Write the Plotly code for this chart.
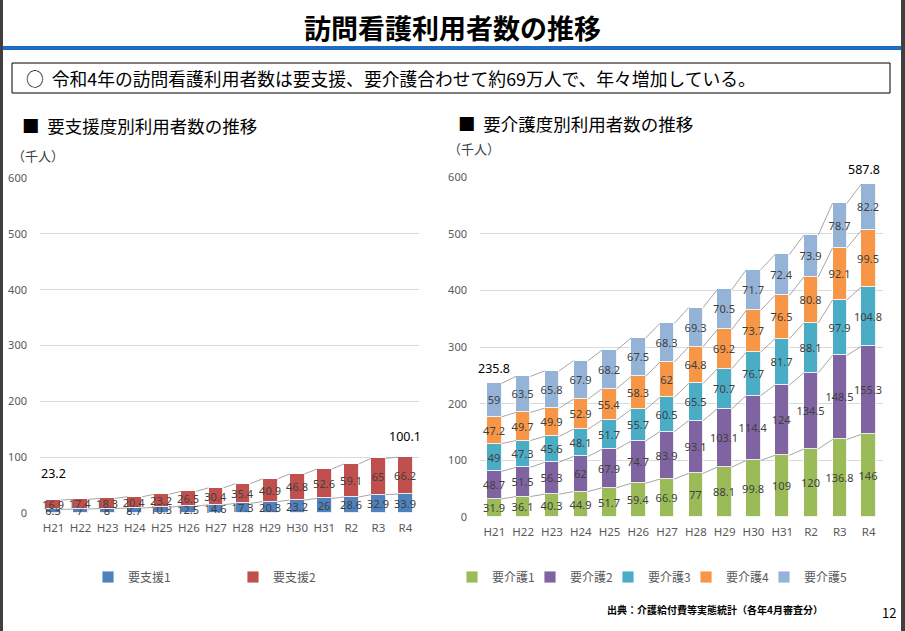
import plotly.graph_objects as go

W, H = 905, 631

years = ["H21", "H22", "H23", "H24", "H25", "H26", "H27", "H28", "H29", "H30", "H31", "R2", "R3", "R4"]

# 要支援
shien1 = [6.3, 7, 8, 8.7, 10.3, 12.5, 14.6, 17.3, 20.3, 23.2, 26, 28.6, 32.9, 33.9]
shien2 = [16.9, 17.4, 18.3, 20.4, 23.2, 26.5, 30.4, 35.4, 40.9, 46.8, 52.6, 59.1, 65, 66.2]
shien_totals = {"H21": "23.2", "R4": "100.1"}

# 要介護
kaigo1 = [31.9, 36.1, 40.3, 44.9, 51.7, 59.4, 66.9, 77, 88.1, 99.8, 109, 120, 136.8, 146]
kaigo2 = [48.7, 51.5, 56.3, 62, 67.9, 74.7, 83.9, 93.1, 103.1, 114.4, 124, 134.5, 148.5, 155.3]
kaigo3 = [49, 47.3, 45.6, 48.1, 51.7, 55.7, 60.5, 65.5, 70.7, 76.7, 81.7, 88.1, 97.9, 104.8]
kaigo4 = [47.2, 49.7, 49.9, 52.9, 55.4, 58.3, 62, 64.8, 69.2, 73.7, 76.5, 80.8, 92.1, 99.5]
kaigo5 = [59, 63.5, 65.8, 67.9, 68.2, 67.5, 68.3, 69.3, 70.5, 71.7, 72.4, 73.9, 78.7, 82.2]
kaigo_totals = {"H21": "235.8", "R4": "587.8"}

y_ticks = [0, 100, 200, 300, 400, 500, 600]

FONT = "Noto Sans CJK JP"
LBL = "#404040"
idx = list(range(len(years)))

fig = go.Figure()


def add_stack(series, names, colors, legends, xa, ya, width):
    cum = [0.0] * len(years)
    tops = []
    for vals, name, col, lg in zip(series, names, colors, legends):
        fig.add_trace(go.Bar(
            x=idx, y=vals, name=name, text=[str(v) for v in vals],
            textposition="inside", insidetextanchor="middle", textangle=0,
            textfont=dict(size=11, color=LBL, family="Noto Sans"),
            marker=dict(color=col, line=dict(color="rgba(255,255,255,0.85)", width=1)),
            width=width, xaxis=xa, yaxis=ya, legend=lg, cliponaxis=False,
            hoverinfo="skip",
        ))
        cum = [c + v for c, v in zip(cum, vals)]
        tops.append(list(cum))
    # series lines (Excel style) connecting segment tops between bars
    for t in tops:
        xs, ys = [], []
        for i in range(len(years) - 1):
            xs += [i + width / 2, i + 1 - width / 2, None]
            ys += [t[i], t[i + 1], None]
        fig.add_trace(go.Scatter(x=xs, y=ys, mode="lines",
                                 line=dict(color="#A6A6A6", width=1),
                                 xaxis=xa, yaxis=ya, showlegend=False, hoverinfo="skip"))
    return tops[-1]


left_tot = add_stack([shien1, shien2], ["要支援1", "要支援2"], ["#4F81BD", "#C0504D"],
                     ["legend", "legend"], "x", "y", 0.55)
right_tot = add_stack([kaigo1, kaigo2, kaigo3, kaigo4, kaigo5],
                      ["要介護1", "要介護2", "要介護3", "要介護4", "要介護5"],
                      ["#9BBB59", "#8064A2", "#4BACC6", "#F79646", "#95B3D7"],
                      ["legend2", "legend3", "legend4", "legend5", "legend6"], "x2", "y2", 0.5)

# total labels
for yr, txt in shien_totals.items():
    i = years.index(yr)
    fig.add_annotation(x=i, y=left_tot[i], xref="x", yref="y", text=txt, showarrow=False,
                       yanchor="bottom", yshift=(16 if i == 0 else 10),
                       font=dict(size=12.5, color="#000", family="Noto Sans"))
for yr, txt in kaigo_totals.items():
    i = years.index(yr)
    fig.add_annotation(x=i, y=right_tot[i], xref="x2", yref="y2", text=txt, showarrow=False,
                       yanchor="bottom", yshift=4, xshift=(0 if i == 0 else -5),
                       font=dict(size=12.5, color="#000", family="Noto Sans"))

axis_common = dict(tickmode="array", tickvals=idx, ticktext=years, range=[-0.5, len(years) - 0.5],
                   showgrid=False, zeroline=False, showline=False, ticks="", tickangle=0,
                   tickfont=dict(size=11.5, color="#595959", family="Noto Sans"), fixedrange=True)
yaxis_common = dict(range=[0, 600], tickvals=y_ticks, showgrid=True, gridcolor="#D9D9D9",
                    gridwidth=1, zeroline=False, showline=False, ticks="",
                    tickfont=dict(size=11, color="#595959", family="Noto Sans"), fixedrange=True)

leg_common = dict(orientation="h", y=1 - 577 / H, xanchor="left", yanchor="middle",
                  itemwidth=30, font=dict(size=12, color="#595959", family=FONT),
                  bgcolor="rgba(0,0,0,0)", traceorder="normal")

fig.update_layout(
    width=W, height=H, margin=dict(l=0, r=0, t=0, b=0, autoexpand=False),
    paper_bgcolor="white", plot_bgcolor="white", barmode="stack", bargap=0,
    uniformtext=dict(minsize=11, mode="show"),
    font=dict(family=FONT, color="#000"),
    xaxis=dict(domain=[40 / W, 419 / W], anchor="y", ticklabelstandoff=6, **axis_common),
    yaxis=dict(domain=[1 - 513 / H, 1 - 178 / H], anchor="x", ticklabelstandoff=12, **yaxis_common),
    xaxis2=dict(domain=[480 / W, 883 / W], anchor="y2", ticklabelstandoff=6, **axis_common),
    yaxis2=dict(domain=[1 - 517 / H, 1 - 177 / H], anchor="x2", ticklabelstandoff=12, **yaxis_common),
    legend=dict(x=88 / W, entrywidth=100, entrywidthmode="pixels", **leg_common),
    legend2=dict(x=452 / W, **leg_common),
    legend3=dict(x=530 / W, **leg_common),
    legend4=dict(x=608 / W, **leg_common),
    legend5=dict(x=686 / W, **leg_common),
    legend6=dict(x=764 / W, **leg_common),
)

# decorations
shapes = [
    dict(type="rect", xref="paper", yref="paper", x0=0, x1=3 / W, y0=0, y1=1,
         fillcolor="#404040", line=dict(width=0)),
    dict(type="rect", xref="paper", yref="paper", x0=901 / W, x1=1, y0=0, y1=1,
         fillcolor="#404040", line=dict(width=0)),
    dict(type="rect", xref="paper", yref="paper", x0=3 / W, x1=901 / W, y0=1 - 50 / H, y1=1 - 46 / H,
         fillcolor="#1F6CC0", line=dict(width=0)),
    dict(type="rect", xref="paper", yref="paper", x0=12 / W, x1=890 / W, y0=1 - 93 / H, y1=1 - 63 / H,
         fillcolor="rgba(0,0,0,0)", line=dict(color="#000", width=1)),
]
fig.update_layout(shapes=shapes)


def ann(x, y, text, size, xanchor="left", color="#000", bold=False, family=FONT):
    fig.add_annotation(x=x / W, y=1 - y / H, xref="paper", yref="paper", text=text,
                       showarrow=False, xanchor=xanchor, yanchor="middle",
                       font=dict(size=size, color=color, family=family,
                                 weight=("bold" if bold else "normal")))


ann(452, 27, "訪問看護利用者数の推移", 27, xanchor="center", bold=True)
ann(24, 78, "○  令和4年の訪問看護利用者数は要支援、要介護合わせて約69万人で、年々増加している。", 17.8)
ann(20, 125, "■  要支援度別利用者数の推移", 17.5)
ann(456, 123, "■  要介護度別利用者数の推移", 17.5)
ann(10, 155, "（千人）", 13, color="#404040")
ann(446, 149, "（千人）", 13, color="#404040")
ann(605, 609, "出典：介護給付費等実態統計（各年4月審査分）", 10, bold=True)
ann(880, 612, "12", 13)

fig.write_html("out.html", config={"displayModeBar": False},
               post_script="document.body.style.margin='0';document.body.style.overflow='hidden';")
